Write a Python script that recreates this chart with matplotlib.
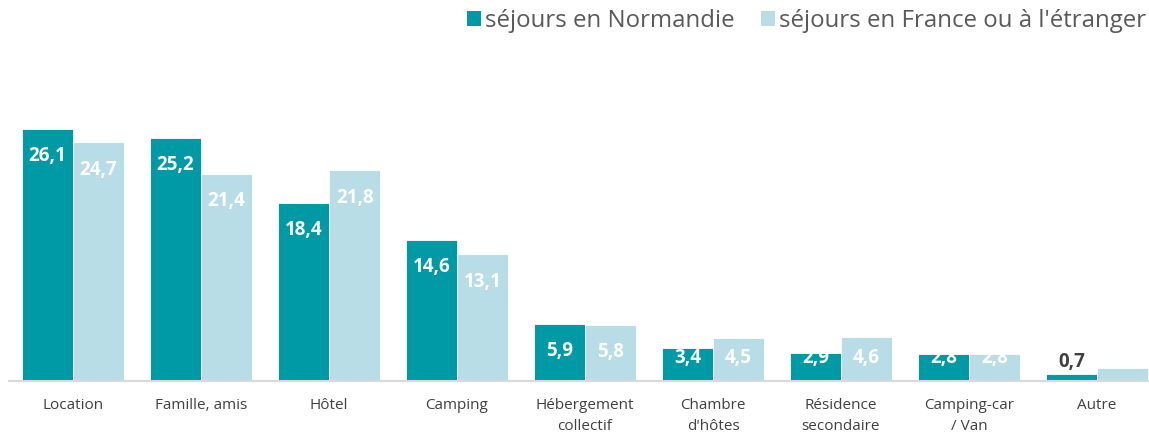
import matplotlib
matplotlib.use("Agg")
import matplotlib.pyplot as plt
import numpy as np
from matplotlib.patches import Patch

categories = ["Location", "Famille, amis", "Hôtel", "Camping", "Hébergement\ncollectif",
              "Chambre\nd'hôtes", "Résidence\nsecondaire", "Camping-car\n/ Van", "Autre"]
normandie = [26.1, 25.2, 18.4, 14.6, 5.9, 3.4, 2.9, 2.8, 0.7]
france_etranger = [24.7, 21.4, 21.8, 13.1, 5.8, 4.5, 4.6, 2.8, 1.3]
series_names = ["séjours en Normandie", "séjours en France ou à l'étranger"]

dark = "#0099A6"
light = "#B8DDE7"
plt.rcParams['font.family'] = ['Open Sans', 'DejaVu Sans']

W, H = 1149, 433
fig = plt.figure(figsize=(W / 100, H / 100), dpi=100)
ax_left = 9 / W
ax_bottom = 52 / H
ax_height = 289.7 / H
ax = fig.add_axes([ax_left, ax_bottom, 1 - ax_left, ax_height])

x = np.arange(len(categories))
bw = 0.4
ax.bar(x - bw / 2, normandie, bw, color=dark, edgecolor="white", linewidth=0.6)
ax.bar(x + bw / 2, france_etranger, bw, color=light, edgecolor="white", linewidth=0.6)

ax.set_xlim(-0.5, (W - 9) / 128 - 0.5)
ax.set_ylim(0, 30)

lab_fs = 13.5
for i, v in enumerate(normandie):
    if v < 1.5:
        ax.text(x[i] - bw / 2, v + 1.3, f"{v:.1f}".replace(".", ","), ha="center", va="center",
                color="#404040", fontsize=lab_fs, fontweight="bold")
    else:
        ax.text(x[i] - bw / 2, max(v - 2.8, 2.4), f"{v:.1f}".replace(".", ","), ha="center",
                va="center", color="white", fontsize=lab_fs, fontweight="bold")
for i, v in enumerate(france_etranger):
    if v < 1.5:
        continue
    ax.text(x[i] + bw / 2, max(v - 2.8, 2.4), f"{v:.1f}".replace(".", ","), ha="center",
            va="center", color="white", fontsize=lab_fs, fontweight="bold")

ax.set_xticks(x)
ax.set_xticklabels(categories, fontsize=11, color="#404040", linespacing=1.55)
ax.tick_params(axis="x", length=0, pad=12.5)
ax.set_yticks([])
for s in ["top", "right", "left"]:
    ax.spines[s].set_visible(False)
ax.spines["bottom"].set_color("#D9D9D9")
ax.spines["bottom"].set_linewidth(1.5)

handles = [Patch(facecolor=dark, label=series_names[0]), Patch(facecolor=light, label=series_names[1])]
fig.legend(handles=handles, loc="center right", bbox_to_anchor=(1.0, 1 - 21 / H), ncol=2,
           frameon=False, fontsize=17.3, labelcolor="#595959", handlelength=0.55, handleheight=0.55,
           handletextpad=0.2, columnspacing=1.1, borderaxespad=0, borderpad=0.1)

fig.savefig("out.png", dpi=100)
